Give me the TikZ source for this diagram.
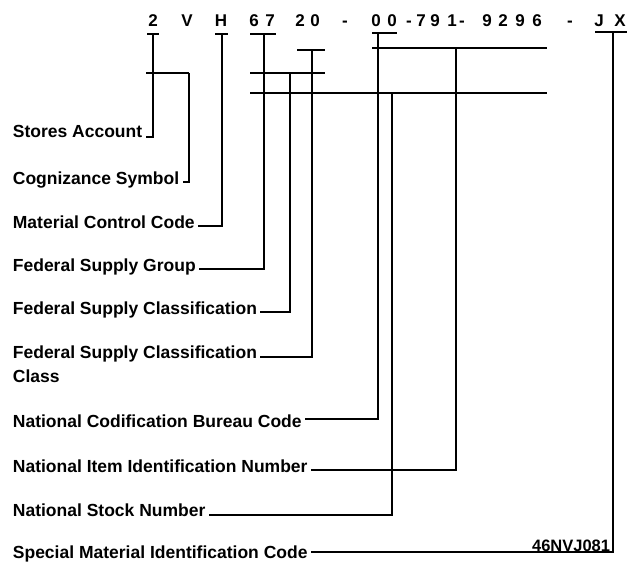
\documentclass[tikz,border=0pt]{standalone}
\usepackage{fontspec}
\setmainfont{Liberation Sans}
\begin{document}
\begin{tikzpicture}[x=1pt,y=-1pt,line width=1.8pt,
  lbl/.style={font=\bfseries\fontsize{17.5}{21}\selectfont,inner sep=2.5pt,anchor=base west},
  ch/.style={font=\bfseries\fontsize{17}{20}\selectfont,inner sep=0pt,anchor=base},
  code/.style={font=\bfseries\fontsize{16.5}{20}\selectfont,inner sep=0pt,anchor=base east}]
\useasboundingbox (0,0) rectangle (628,564);
% top code characters
\foreach \n/\x/\t in {c1/153/2,c2/187/V,c3/221/H,c4/254/6,c5/270/7,c6/300/2,c7/315/0,
  c8/345/-,c9/376/0,c10/392/0,c11/409/-,c12/421/7,c13/435/9,c14/452/1,c15/462/-,
  c16/487/9,c17/503/2,c18/520/9,c19/537/6,c20/570/-,c21/599/J,c22/620/X}
  \node[ch] (\n) at (\x,27) {\t};
% labels
\node[lbl] (lsa)  at (9.5,138) {Stores Account};
\node[lbl] (lcs)  at (9.5,184) {Cognizance Symbol};
\node[lbl] (lmc)  at (9.5,228) {Material Control Code};
\node[lbl] (lfg)  at (9.5,271) {Federal Supply Group};
\node[lbl] (lfc)  at (9.5,314) {Federal Supply Classification};
\node[lbl] (lfk)  at (9.5,358) {Federal Supply Classification};
\node[lbl] (lfk2) at (9.5,382) {Class};
\node[lbl] (lnc)  at (9.5,427) {National Codification Bureau Code};
\node[lbl] (lni)  at (9.5,472) {National Item Identification Number};
\node[lbl] (lns)  at (9.5,516) {National Stock Number};
\node[lbl] (lsm)  at (9.5,558) {Special Material Identification Code};
\node[code] (fig) at (611,551) {46NVJ081};
% corner coordinates
\coordinate (ksa) at (153,137);
\coordinate (kcs) at (189,182);
\coordinate (kmc) at (222,226);
\coordinate (kfg) at (264,269);
\coordinate (kfc) at (290,312);
\coordinate (kfk) at (312,357);
\coordinate (knc) at (378,419);
\coordinate (kni) at (456,470);
\coordinate (kns) at (392,515);
\coordinate (ksm) at (613,552);
% tick bars
\draw (147,34) -- (159,34);
\draw (215,34) -- (228,34);
\draw (250,34) -- (276,34);
\draw (297,50) -- (325,50);
\draw (372,33) -- (397,33);
\draw (595,32) -- (627,32);
% cross bars
\draw (146,73) -- (189,73);
\draw (250,73) -- (325,73);
\draw (250,93) -- (547,93);
\draw (372,48) -- (547,48);
% connectors
\draw (153,34) -- (ksa) -- (lsa.east |- ksa);
\draw (189,73) -- (kcs) -- (lcs.east |- kcs);
\draw (222,34) -- (kmc) -- (lmc.east |- kmc);
\draw (264,34) -- (kfg) -- (lfg.east |- kfg);
\draw (290,73) -- (kfc) -- (lfc.east |- kfc);
\draw (312,50) -- (kfk) -- (lfk.east |- kfk);
\draw (378,33) -- (knc) -- (lnc.east |- knc);
\draw (456,48) -- (kni) -- (lni.east |- kni);
\draw (392,93) -- (kns) -- (lns.east |- kns);
\draw (613,32) -- (ksm) -- (lsm.east |- ksm);
\end{tikzpicture}
\end{document}
